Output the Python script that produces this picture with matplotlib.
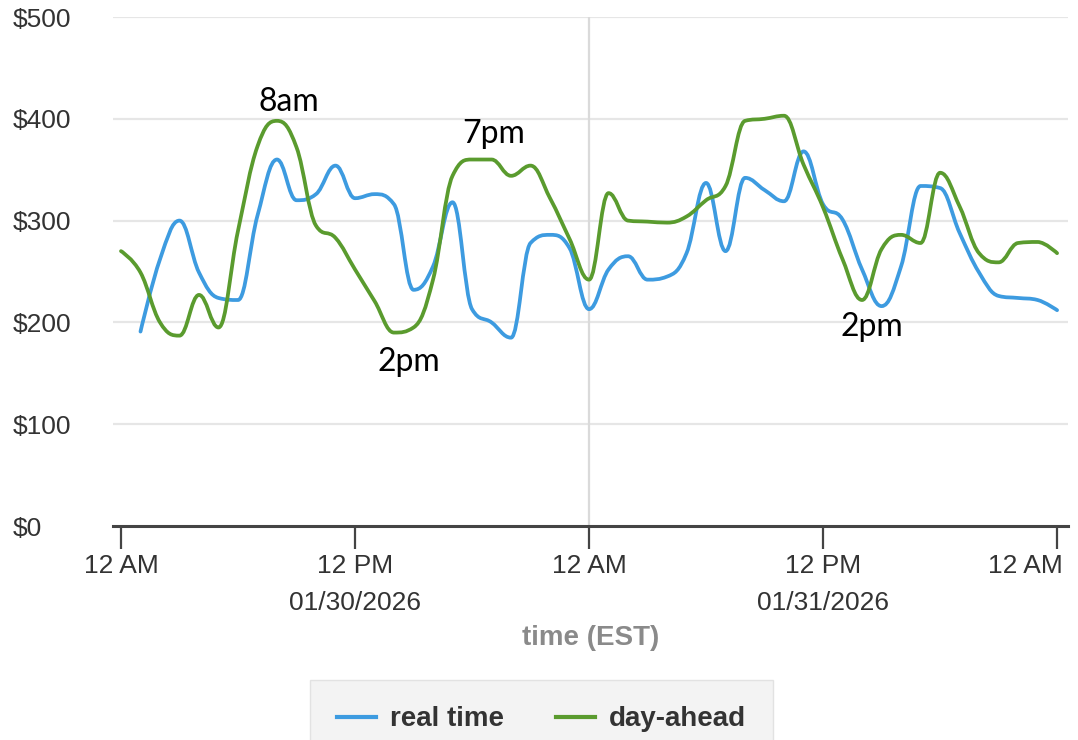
import numpy as np
import matplotlib
matplotlib.use("Agg")
import matplotlib.pyplot as plt
from matplotlib.path import Path
from matplotlib.patches import PathPatch
from matplotlib.lines import Line2D
import matplotlib.transforms as mtransforms

# hourly prices, hour 0 = 12 AM 01/30/2026
hours = list(range(49))
real_time = [np.nan, 191, 262, 300, 249, 224, 222, 305, 360, 320,
             326, 354, 322, 326, 316, 232, 255, 318, 213, 200,
             185, 278, 286, 273, 213, 252, 265, 242, 245, 268,
             337, 270, 342, 330, 319, 368, 316, 301, 252, 216,
             255, 334, 332, 288, 249, 226, 224, 222, 212]
day_ahead = [270, 249, 200, 187, 227, 195, 290, 373, 398, 372,
             295, 283, 252, 221, 190, 195, 242, 344, 360, 360,
             344, 354, 322, 282, 242, 327, 300, 299, 298, 304,
             320, 334, 398, 400, 403, 355, 313, 262, 222, 272,
             286, 278, 347, 314, 268, 259, 278, 279, 268]

tick_hours = [0, 12, 24, 36, 48]
tick_labels = ["12 AM", "12 PM\n01/30/2026", "12 AM", "12 PM\n01/31/2026", "12 AM"]
y_ticks = [0, 100, 200, 300, 400, 500]

# (label, series, hour, offset in pixels)
notes = [("8am", "day_ahead", 8, (12, 10)),
         ("2pm", "day_ahead", 14, (15, -38)),
         ("7pm", "day_ahead", 19, (2, 17)),
         ("2pm", "day_ahead", 38, (10, -36))]

BLUE = "#3d9be0"
GREEN = "#5a9b2e"


def spline_path(xs, ys, smoothing=1.5):
    # highcharts style spline between points
    pts = [(x, y) for x, y in zip(xs, ys) if not np.isnan(y)]
    n = len(pts)
    lc = [None] * n
    rc = [None] * n
    for i in range(n):
        x, y = pts[i]
        if i == 0 or i == n - 1:
            lc[i] = (x, y)
            rc[i] = (x, y)
            continue
        lx, ly = pts[i - 1]
        nx, ny = pts[i + 1]
        d = smoothing + 1
        lcx = (smoothing * x + lx) / d
        lcy = (smoothing * y + ly) / d
        rcx = (smoothing * x + nx) / d
        rcy = (smoothing * y + ny) / d
        if rcx != lcx:
            corr = ((rcy - lcy) * (rcx - x)) / (rcx - lcx) + y - rcy
            lcy += corr
            rcy += corr
        if lcy > ly and lcy > y:
            lcy = max(ly, y)
            rcy = 2 * y - lcy
        elif lcy < ly and lcy < y:
            lcy = min(ly, y)
            rcy = 2 * y - lcy
        if rcy > ny and rcy > y:
            rcy = max(ny, y)
            lcy = 2 * y - rcy
        elif rcy < ny and rcy < y:
            rcy = min(ny, y)
            lcy = 2 * y - rcy
        lc[i] = (lcx, lcy)
        rc[i] = (rcx, rcy)
    verts = [pts[0]]
    codes = [Path.MOVETO]
    for i in range(1, n):
        verts += [rc[i - 1], lc[i], pts[i]]
        codes += [Path.CURVE4] * 3
    return Path(verts, codes)


plt.rcParams['font.family'] = ['Liberation Sans', 'DejaVu Sans']

fig = plt.figure(figsize=(10.78, 7.4), dpi=100)
ax = fig.add_axes([113 / 1078, 214 / 740, (1068 - 113) / 1078, (526 - 17) / 740])

ax.set_xlim(-0.41, 48.56)
ax.set_ylim(0, 500)

for yv in y_ticks[1:]:
    ax.axhline(yv, color="#e6e6e6", lw=1.6, zorder=1)
ax.axvline(24, color="#dadada", lw=1.6, zorder=1)

series = {"real_time": real_time, "day_ahead": day_ahead}
for key, col in [("real_time", BLUE), ("day_ahead", GREEN)]:
    p = spline_path(hours, series[key])
    ax.add_patch(PathPatch(p, facecolor="none", edgecolor=col, lw=2.7,
                           capstyle="round", joinstyle="round", zorder=3))

for txt, key, h, (dx, dy) in notes:
    ax.annotate(txt, (h, series[key][h]), xytext=(dx, dy), textcoords="offset pixels",
                ha="center", va="baseline", fontsize=23, family=["Lato", "DejaVu Sans"],
                color="black", zorder=4)

for s in ["top", "right", "left"]:
    ax.spines[s].set_visible(False)
ax.spines["bottom"].set_color("#444444")
ax.spines["bottom"].set_linewidth(2.2)

ax.set_xticks(tick_hours)
ax.set_xticklabels(tick_labels, fontsize=19, color="#333333", linespacing=1.65)
ax.tick_params(axis="x", length=16.5, width=1.6, color="#444444", pad=4)
last = ax.get_xticklabels()[-1]
last.set_horizontalalignment("right")
last.set_transform(last.get_transform() + mtransforms.ScaledTranslation(6 / 100, 0, fig.dpi_scale_trans))

ax.set_yticks(y_ticks)
ax.set_yticklabels(["$%d" % v for v in y_ticks], fontsize=19, color="#333333")
ax.tick_params(axis="y", length=0, pad=72)
for lbl in ax.get_yticklabels():
    lbl.set_horizontalalignment("left")

ax.set_xlabel("time (EST)", fontsize=20, color="#8a8a8a", fontweight="bold", labelpad=7)

handles = [Line2D([], [], color=BLUE, lw=3), Line2D([], [], color=GREEN, lw=3)]
leg = fig.legend(handles, ["real time", "day-ahead"], loc="upper center",
                 bbox_to_anchor=(541.5 / 1078, 60 / 740), ncol=2, frameon=True,
                 fancybox=False, prop={"size": 20, "weight": "bold"},
                 handlelength=1.4, handletextpad=0.5, columnspacing=1.9,
                 borderpad=0.95, borderaxespad=0)
leg.get_frame().set_facecolor("#f0f0f0")
leg.get_frame().set_edgecolor("#dddddd")
for t in leg.get_texts():
    t.set_color("#333333")

fig.savefig("out.png", dpi=100)
